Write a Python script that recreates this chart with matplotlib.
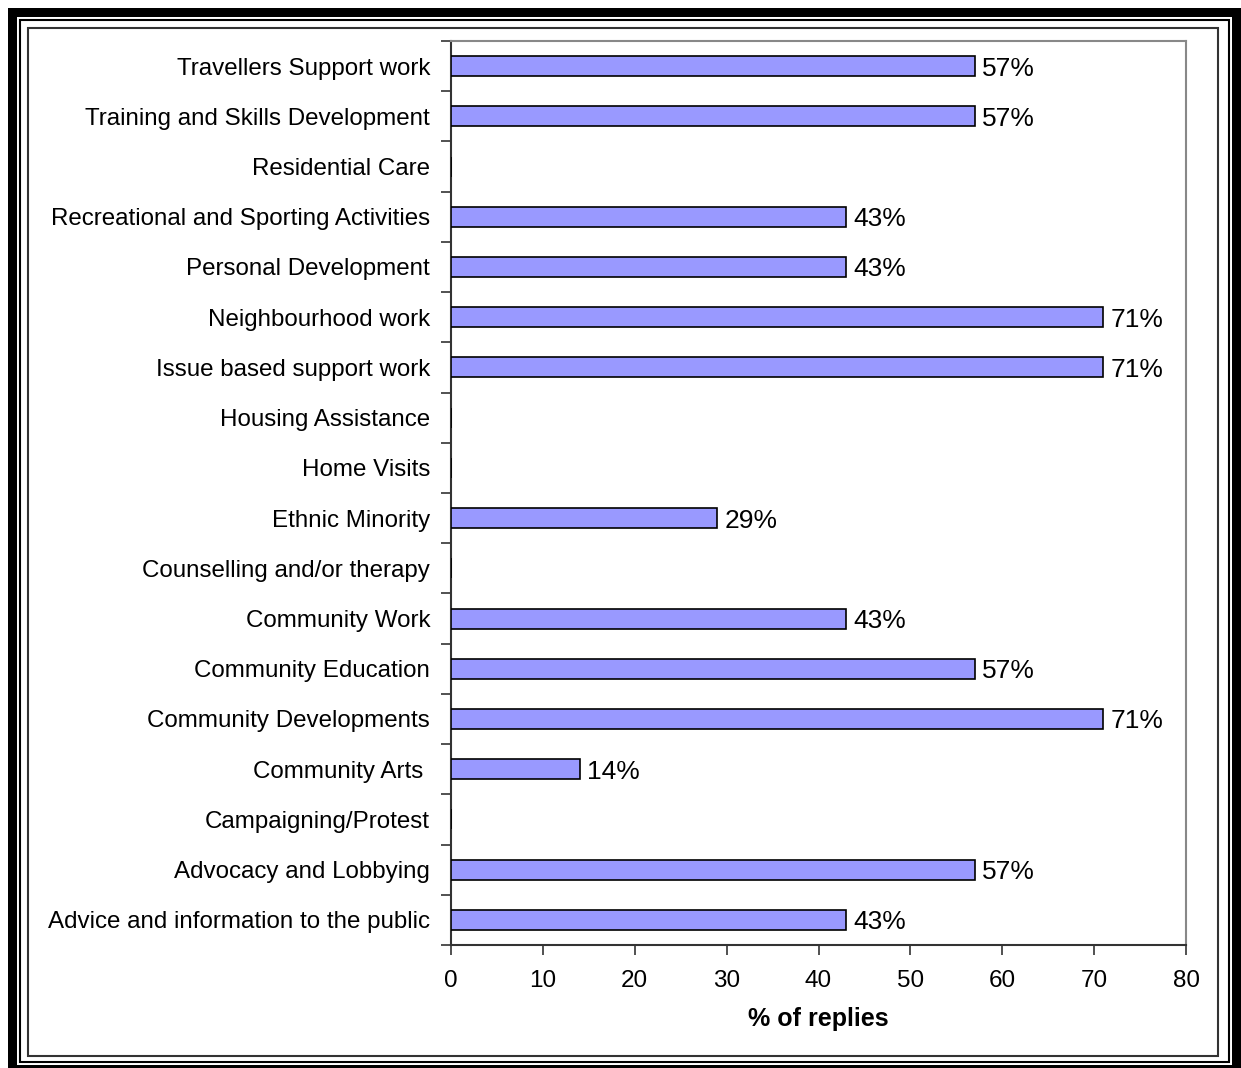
import numpy as np
import matplotlib.pyplot as plt
import matplotlib.patches as mpatches

# ---------------------------------------------------------------------------
# Data: share of replies per activity (top row first)
# ---------------------------------------------------------------------------
activities = [
    "Travellers Support work",
    "Training and Skills Development",
    "Residential Care",
    "Recreational and Sporting Activities",
    "Personal Development",
    "Neighbourhood work",
    "Issue based support work",
    "Housing Assistance",
    "Home Visits",
    "Ethnic Minority",
    "Counselling and/or therapy",
    "Community Work",
    "Community Education",
    "Community Developments",
    "Community Arts ",
    "Campaigning/Protest",
    "Advocacy and Lobbying",
    "Advice and information to the public",
]
pct_replies = [57, 57, 0, 43, 43, 71, 71, 0, 0, 29, 0, 43, 57, 71, 14, 0, 57, 43]
x_ticks = [0, 10, 20, 30, 40, 50, 60, 70, 80]

plt.rcParams["font.family"] = ["Liberation Sans", "DejaVu Sans"]

W, H = 1241, 1068
fig = plt.figure(figsize=(W / 100, H / 100), dpi=100)
fig.patch.set_facecolor("white")


def px_rect(x0, y0, x1, y1, lw=0, ec="none", fc="none"):
    """Rectangle given in pixel coords (origin top-left) on the figure."""
    return mpatches.Rectangle((x0 / W, 1 - y1 / H), (x1 - x0) / W, (y1 - y0) / H,
                              transform=fig.transFigure, facecolor=fc,
                              edgecolor=ec, linewidth=lw, zorder=-10)


# ---------------------------------------------------------------------------
# Page frame: thick outer band, thin rule, then the chart-area box
# ---------------------------------------------------------------------------
fig.patches.append(px_rect(8, 8, 1250, 1080, fc="black"))
fig.patches.append(px_rect(17, 16.5, 1232, 1065, fc="white"))
fig.patches.append(px_rect(19.5, 19.5, 1229, 1062, lw=1.5, ec="black"))
fig.patches.append(px_rect(28, 27.5, 1217.5, 1056, lw=1.5, ec="#333333", fc="white"))

# axes box in pixel coords -> figure fractions
left, right, top, bottom = 451, 1186, 41, 945
ax = fig.add_axes([left / W, 1 - bottom / H, (right - left) / W, (bottom - top) / H])
ax.set_zorder(1)

n = len(activities)
ypos = np.arange(n)[::-1]  # first item on top
ax.barh(ypos, pct_replies, height=0.4, color="#9999FF",
        edgecolor="black", linewidth=1.2, zorder=3)

for y, v in zip(ypos, pct_replies):
    if v > 0:
        ax.text(v + 0.75, y, f"{v}%", ha="left", va="center_baseline",
                fontsize=19, color="black")

ax.set_xlim(0, 80)
ax.set_ylim(-0.5, n - 0.5)
ax.set_xticks(x_ticks)
ax.set_xticklabels([str(t) for t in x_ticks], fontsize=17.5)

# category labels sit on minor ticks; major ticks mark the boundaries
ax.set_yticks(np.arange(n + 1) - 0.5)
ax.set_yticklabels([])
ax.set_yticks(ypos, minor=True)
ax.set_yticklabels(activities, minor=True, fontsize=17.4)
ax.tick_params(axis="y", which="minor", length=0, pad=15)
ax.tick_params(axis="y", which="major", length=7, width=1.2, color="#333333",
               direction="out")
ax.tick_params(axis="x", length=7, width=1.2, color="#333333", pad=11)

ax.set_xlabel("% of replies", fontsize=18, fontweight="bold", labelpad=11)

for side in ("left", "bottom"):
    ax.spines[side].set_color("#333333")
    ax.spines[side].set_linewidth(1.5)
for side in ("top", "right"):
    ax.spines[side].set_color("#888888")
    ax.spines[side].set_linewidth(1.5)

fig.savefig("out.png", dpi=100)
